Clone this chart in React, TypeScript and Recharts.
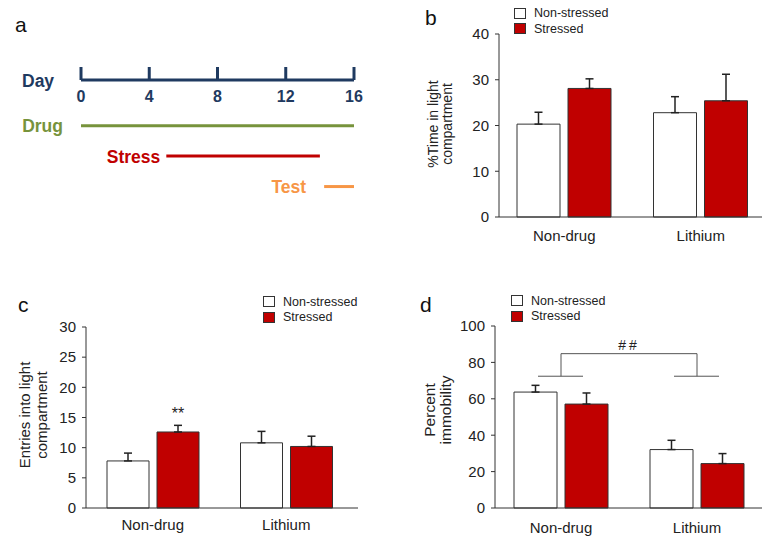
import React from "react";
import {
  BarChart,
  Bar,
  ComposedChart,
  Line,
  XAxis,
  YAxis,
  ErrorBar,
  Legend,
  LabelList,
  Label,
  ReferenceLine,
} from "recharts";

const FONT = '"Liberation Sans", Arial, sans-serif';
const INK = "#222";
const AXIS = "#333";
const RED = "#c00000";
const NAVY = "#1f3a60";

// panel a: timeline (days)
const dayTicks = [0, 4, 8, 12, 16];
const phases = ["Drug", "Stress", "Test"];
const phaseStart = [0, 5, 14.25];
const phaseEnd = [16, 14, 16];
const phaseColors = ["#77933c", RED, "#f79646"];
const phaseLabelGap = [18, 6, 18];

// panels b-d
const groups = ["Non-drug", "Lithium"];
const seriesNames = ["Non-stressed", "Stressed"];

const timeNonStressed = [20.3, 22.8];
const timeStressed = [28.1, 25.4];
const timeNonStressedErr = [2.6, 3.5];
const timeStressedErr = [2.1, 5.8];

const entriesNonStressed = [7.8, 10.8];
const entriesStressed = [12.6, 10.2];
const entriesNonStressedErr = [1.3, 1.9];
const entriesStressedErr = [1.1, 1.7];
const entriesSig = ["**", ""];

const immobNonStressed = [63.7, 32.1];
const immobStressed = [57.1, 24.4];
const immobNonStressedErr = [3.7, 5.1];
const immobStressedErr = [6.1, 5.5];
const immobBracketTop = 84.8;
const immobBracketFoot = 72.4;

const timeTicks = [0, 10, 20, 30, 40];
const entriesTicks = [0, 5, 10, 15, 20, 25, 30];
const immobTicks = [0, 20, 40, 60, 80, 100];

function buildRows(ns: number[], s: number[], nsErr: number[], sErr: number[], sig?: string[]) {
  return groups.map((g, i) => ({
    group: g,
    ns: ns[i],
    s: s[i],
    nsErr: nsErr[i],
    sErr: sErr[i],
    sig: sig ? sig[i] : "",
  }));
}

const timeRows = buildRows(timeNonStressed, timeStressed, timeNonStressedErr, timeStressedErr);
const entriesRows = buildRows(entriesNonStressed, entriesStressed, entriesNonStressedErr, entriesStressedErr, entriesSig);
const immobRows = buildRows(immobNonStressed, immobStressed, immobNonStressedErr, immobStressedErr);

const phaseRows = phases.map((p, i) => [
  { day: phaseStart[i], row: i + 1, tag: p },
  { day: phaseEnd[i], row: i + 1, tag: "" },
]);

function LegendBox({ payload }: any) {
  return (
    <div style={{ fontFamily: FONT, fontSize: 12.5, color: INK }}>
      {(payload || []).map((e: any) => (
        <div key={e.value} style={{ display: "flex", alignItems: "center", height: 15.5 }}>
          <span
            style={{
              width: 12,
              height: 11,
              boxSizing: "border-box",
              border: "1px solid #333",
              background: e.color,
              marginRight: 8,
            }}
          />
          {e.value}
        </div>
      ))}
    </div>
  );
}

function axisTitle(lines: string[], x: number, cy: number, gap: number, size: number) {
  return () => (
    <text
      transform={`rotate(-90 ${x} ${cy})`}
      textAnchor="middle"
      fontFamily={FONT}
      fontSize={size}
      fill={INK}
    >
      {lines.map((l, i) => (
        <tspan key={l} x={x} y={cy + i * gap}>
          {l}
        </tspan>
      ))}
    </text>
  );
}

type PanelProps = {
  data: any[];
  left: number;
  top: number;
  width: number;
  margin: { top: number; right: number; bottom: number; left: number };
  padding: { left: number; right: number };
  ticks: number[];
  barSize: number;
  tickGap: number;
  legendAt: { left: number; top: number };
  title: () => React.ReactElement;
  children?: React.ReactNode;
  stressedLabels?: boolean;
};

function BarPanel(p: PanelProps) {
  const max = p.ticks[p.ticks.length - 1];
  return (
    <div style={{ position: "absolute", left: p.left, top: p.top }}>
      <BarChart
        width={p.width}
        height={258}
        data={p.data}
        margin={p.margin}
        barSize={p.barSize}
        barGap={8}
        style={{ fontFamily: FONT }}
      >
        <XAxis
          dataKey="group"
          height={30}
          padding={p.padding}
          tickLine={false}
          tickSize={0}
          tickMargin={p.tickGap}
          axisLine={{ stroke: AXIS }}
          tick={{ fontSize: 15, fill: INK }}
        />
        <YAxis
          width={60}
          domain={[0, max]}
          ticks={p.ticks}
          interval={0}
          tickSize={4}
          tickMargin={6}
          axisLine={{ stroke: AXIS }}
          tickLine={{ stroke: AXIS }}
          tick={{ fontSize: 15, fill: INK }}
        >
          <Label content={p.title} />
        </YAxis>
        <Legend
          layout="horizontal"
          align="center"
          verticalAlign="middle"
          wrapperStyle={{ top: p.legendAt.top, left: p.legendAt.left, width: "auto" }}
          content={(lp: any) => <LegendBox payload={lp.payload} />}
        />
        <Bar dataKey="ns" name={seriesNames[0]} fill="#ffffff" stroke={AXIS} isAnimationActive={false}>
          <ErrorBar
            dataKey={(d: any) => [0, d.nsErr]}
            width={4}
            stroke={INK}
            direction="y"
            isAnimationActive={false}
          />
        </Bar>
        <Bar dataKey="s" name={seriesNames[1]} fill={RED} stroke={AXIS} isAnimationActive={false}>
          <ErrorBar
            dataKey={(d: any) => [0, d.sErr]}
            width={4}
            stroke={INK}
            direction="y"
            isAnimationActive={false}
          />
          {p.stressedLabels && (
            <LabelList
              dataKey="sig"
              content={(lp: any) =>
                lp.value ? (
                  <text
                    x={Number(lp.x) + Number(lp.width) / 2}
                    y={Number(lp.y) - 13}
                    textAnchor="middle"
                    fontSize={16}
                    fontFamily={FONT}
                    fill={INK}
                  >
                    {lp.value}
                  </text>
                ) : null
              }
            />
          )}
        </Bar>
        {p.children}
      </BarChart>
    </div>
  );
}

function DayTick({ x, y, payload }: any) {
  return (
    <text
      x={x}
      y={y + 24}
      dy="0.71em"
      textAnchor="middle"
      fontFamily={FONT}
      fontWeight="bold"
      fontSize={16}
      fill={NAVY}
    >
      {payload.value}
    </text>
  );
}

function DayLabel({ viewBox }: any) {
  return (
    <text
      x={viewBox.x - 59}
      y={viewBox.y + viewBox.height + 7}
      fontFamily={FONT}
      fontWeight="bold"
      fontSize={17.5}
      fill={NAVY}
    >
      Day
    </text>
  );
}

function Timeline() {
  return (
    <div style={{ position: "absolute", left: 0, top: 0 }}>
      <ComposedChart width={380} height={220} margin={{ top: 50, right: 26, bottom: 3, left: 81 }}>
        <XAxis
          type="number"
          dataKey="day"
          orientation="top"
          domain={[0, 16]}
          ticks={dayTicks}
          interval={0}
          height={30}
          tickSize={13}
          tickMargin={0}
          axisLine={{ stroke: NAVY, strokeWidth: 3 }}
          tickLine={{ stroke: NAVY, strokeWidth: 3 }}
          tick={DayTick}
        >
          <Label content={DayLabel} />
        </XAxis>
        <YAxis type="number" domain={[-0.5, 4]} reversed hide />
        {phaseRows.map((rows, i) => (
          <Line
            key={phases[i]}
            data={rows}
            dataKey="row"
            stroke={phaseColors[i]}
            strokeWidth={3}
            dot={false}
            activeDot={false}
            isAnimationActive={false}
          >
            <LabelList
              dataKey="tag"
              content={(lp: any) =>
                lp.value ? (
                  <text
                    x={Number(lp.x) - phaseLabelGap[i]}
                    y={Number(lp.y) + 6.5}
                    textAnchor="end"
                    fontFamily={FONT}
                    fontWeight="bold"
                    fontSize={17.5}
                    fill={phaseColors[i]}
                  >
                    {lp.value}
                  </text>
                ) : null
              }
            />
          </Line>
        ))}
      </ComposedChart>
    </div>
  );
}

const BRACKET = "#555";

export default function App() {
  return (
    <div
      style={{
        position: "absolute",
        left: 0,
        top: 0,
        width: 762,
        height: 538,
        overflow: "hidden",
        background: "#fff",
        fontFamily: FONT,
      }}
    >
      <Timeline />

      <BarPanel
        data={timeRows}
        left={380}
        top={0}
        width={382}
        margin={{ top: 34, right: 0, bottom: 11, left: 59 }}
        padding={{ left: -3, right: -7 }}
        ticks={timeTicks}
        barSize={43}
        tickGap={13}
        legendAt={{ left: 134, top: 5.5 }}
        title={axisTitle(["%Time in light", "compartment"], 58, 124, 14, 14)}
      />

      <BarPanel
        data={entriesRows}
        left={0}
        top={280}
        width={380}
        margin={{ top: 47, right: 22, bottom: 0, left: 26 }}
        padding={{ left: 0, right: 5 }}
        ticks={entriesTicks}
        barSize={42}
        tickGap={11}
        legendAt={{ left: 263, top: 13.75 }}
        title={axisTitle(["Entries into light", "compartment"], 30, 135, 17, 15)}
        stressedLabels
      />

      <BarPanel
        data={immobRows}
        left={380}
        top={280}
        width={382}
        margin={{ top: 46, right: 0, bottom: 0, left: 55 }}
        padding={{ left: -2, right: -3 }}
        ticks={immobTicks}
        barSize={43}
        tickGap={14}
        legendAt={{ left: 131, top: 12.75 }}
        title={axisTitle(["Percent", "immobility"], 55, 130, 16, 15.5)}
      >
        <ReferenceLine
          segment={[
            { x: groups[0], y: immobBracketTop },
            { x: groups[1], y: immobBracketTop },
          ]}
          stroke={BRACKET}
          label={{ value: "##", position: "top", offset: 4, fontSize: 14, fill: INK, letterSpacing: 3 }}
        />
        {groups.map((g) => (
          <ReferenceLine
            key={`v-${g}`}
            segment={[
              { x: g, y: immobBracketFoot },
              { x: g, y: immobBracketTop },
            ]}
            stroke={BRACKET}
          />
        ))}
        {groups.map((g) => (
          <ReferenceLine
            key={`h-${g}`}
            segment={[
              { x: g, y: immobBracketFoot },
              { x: g, y: immobBracketFoot },
            ]}
            stroke={BRACKET}
            shape={(sp: any) => (
              <line x1={sp.x1 - 23} x2={sp.x1 + 22} y1={sp.y1} y2={sp.y1} stroke={BRACKET} strokeWidth={1} />
            )}
          />
        ))}
      </BarPanel>

      <svg
        width={762}
        height={538}
        style={{ position: "absolute", left: 0, top: 0, pointerEvents: "none" }}
      >
        <g fontFamily={FONT} fontSize={21} fill="#111">
          <text x={15} y={32}>a</text>
          <text x={425} y={25}>b</text>
          <text x={18} y={312}>c</text>
          <text x={420} y={312}>d</text>
        </g>
      </svg>
    </div>
  );
}
